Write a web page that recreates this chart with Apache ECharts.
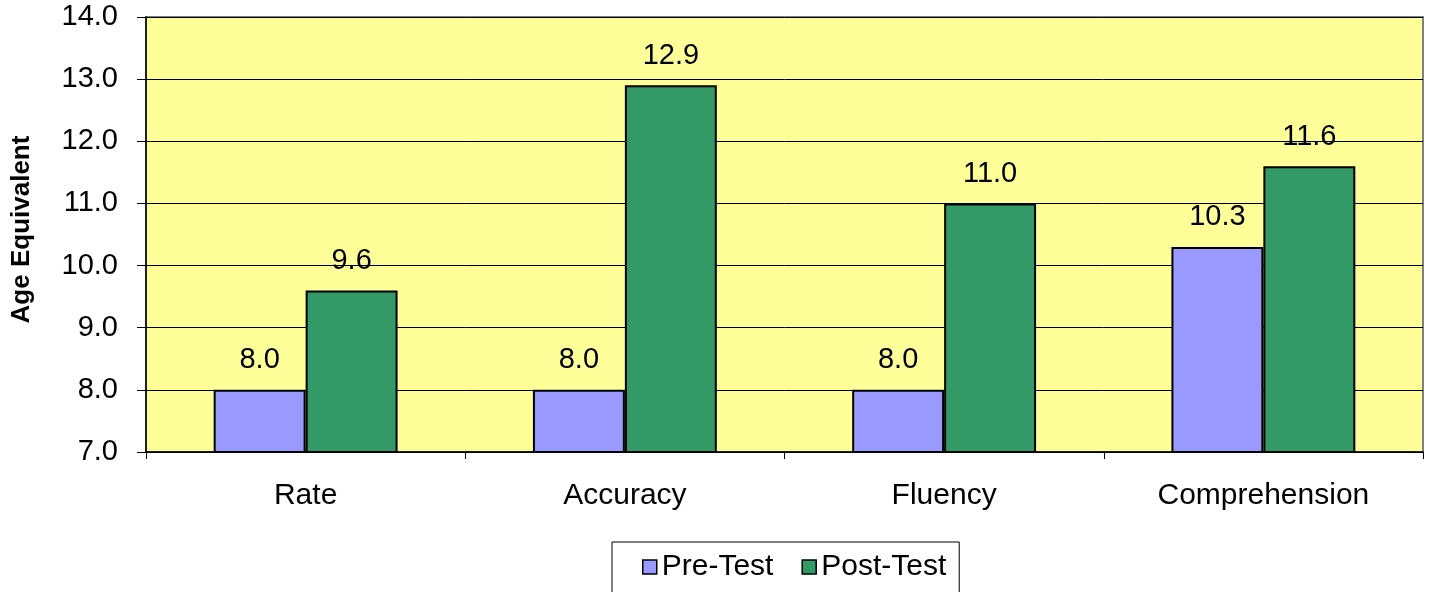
<!DOCTYPE html>
<html>
<head>
<meta charset="utf-8">
<script src="https://cdn.jsdelivr.net/npm/echarts@6/dist/echarts.min.js"></script>
<style>
  html, body { margin: 0; padding: 0; background: #fff; }
  #chart { width: 1432px; height: 592px; }
</style>
</head>
<body>
<div id="chart"></div>
<script>
const categories = ['Rate', 'Accuracy', 'Fluency', 'Comprehension']
const preTest = [8.0, 8.0, 8.0, 10.3]
const postTest = [9.6, 12.9, 11.0, 11.6]

const FONT = '"Liberation Sans", Arial, sans-serif'
const chart = echarts.init(document.getElementById('chart'))

const label = {
  show: true, position: 'top', distance: 15,
  color: '#000', fontFamily: FONT, fontSize: 29,
  formatter: (p) => p.value.toFixed(1)
}

chart.setOption({
  animation: false,
  backgroundColor: '#fff',
  textStyle: { fontFamily: FONT },
  grid: {
    left: 146, right: 9, top: 17, bottom: 140,
    show: true, backgroundColor: '#FFFF99', borderColor: '#808080', borderWidth: 2
  },
  legend: {
    top: 542, left: 612,
    padding: [10, 13, 24, 30],
    borderColor: '#000', borderWidth: 1,
    itemWidth: 14, itemHeight: 14, itemGap: 28,
    textStyle: { fontSize: 30, color: '#000', fontFamily: FONT },
    data: [
      { name: 'Pre-Test', icon: 'rect', itemStyle: { borderColor: '#000', borderWidth: 1.5 } },
      { name: 'Post-Test', icon: 'rect', itemStyle: { borderColor: '#000', borderWidth: 1.5 } }
    ]
  },
  xAxis: {
    type: 'category', data: categories,
    axisLine: { lineStyle: { color: '#000', width: 1.5 } },
    axisTick: { show: true, length: 7, lineStyle: { color: '#000' } },
    axisLabel: { fontSize: 30, color: '#000', margin: 29, fontFamily: FONT }
  },
  yAxis: {
    type: 'value', min: 7, max: 14, interval: 1,
    name: 'Age Equivalent', nameLocation: 'middle', nameGap: 111,
    nameTextStyle: { fontSize: 26, fontWeight: 'bold', color: '#000', fontFamily: FONT, padding: [0, 0, 0, 10] },
    axisLine: { show: true, lineStyle: { color: '#000', width: 1.5 } },
    axisTick: { show: true, length: 9, lineStyle: { color: '#000' } },
    axisLabel: { fontSize: 29, color: '#000', margin: 28, fontFamily: FONT, formatter: (v) => v.toFixed(1) },
    splitLine: { lineStyle: { color: '#000', width: 1 } }
  },
  series: [
    {
      name: 'Pre-Test', type: 'bar', data: preTest,
      barWidth: '28.8%', barGap: '0%',
      itemStyle: { color: '#9999FF', borderColor: '#000', borderWidth: 2 },
      label
    },
    {
      name: 'Post-Test', type: 'bar', data: postTest,
      barWidth: '28.8%', barGap: '0%',
      itemStyle: { color: '#339966', borderColor: '#000', borderWidth: 2 },
      label
    }
  ]
})
</script>
</body>
</html>
